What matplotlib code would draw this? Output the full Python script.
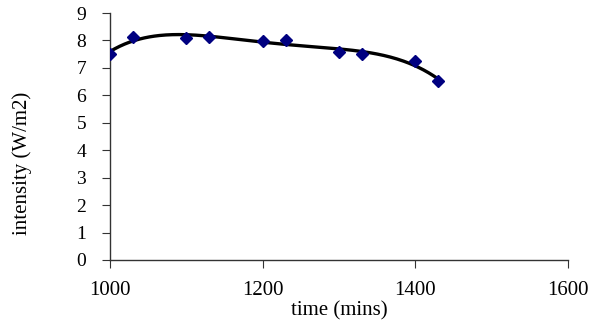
import numpy as np
import matplotlib.pyplot as plt

# measured points
time_mins = [1000, 1030, 1100, 1130, 1200, 1230, 1300, 1330, 1400, 1430]
intensity = [7.52, 8.13, 8.09, 8.11, 7.99, 8.0, 7.58, 7.51, 7.24, 6.51]

plt.rcParams['font.family'] = ['Liberation Serif', 'DejaVu Serif']

fig = plt.figure(figsize=(6, 3.25), dpi=100)
ax = fig.add_axes([0.183, 0.2, 0.764, 0.76])

# polynomial trendline
coef = np.polyfit(time_mins, intensity, 4)
xs = np.linspace(min(time_mins), max(time_mins), 200)
ax.plot(xs, np.polyval(coef, xs), color='black', lw=2.4, zorder=2)

ax.plot(time_mins, intensity, linestyle='none', marker='D', markersize=6.5,
        color='#000080', zorder=3)

ax.set_xlim(1000, 1600)
ax.set_ylim(0, 9)
ax.set_xticks([1000, 1200, 1400, 1600])
ax.set_yticks(range(0, 10))
ax.spines['top'].set_visible(False)
ax.spines['right'].set_visible(False)
for s in ('left', 'bottom'):
    ax.spines[s].set_linewidth(1.0)
    ax.spines[s].set_color('#333333')
ax.tick_params(axis='x', labelsize=15, length=6, direction='out', pad=9,
               color='#333333')
ax.tick_params(axis='y', labelsize=14, length=6, direction='out', pad=11,
               color='#333333')

ax.set_xlabel('time (mins)', fontsize=15, labelpad=1)
ax.set_ylabel('intensity (W/m2)', fontsize=15, va='center')
ax.yaxis.set_label_coords(-0.192, 0.39)

fig.savefig('out.png', dpi=100)
